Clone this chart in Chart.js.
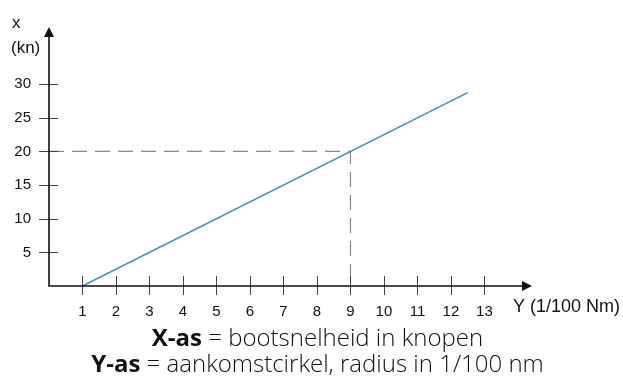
<!DOCTYPE html>
<html>
<head>
<meta charset="utf-8">
<script src="https://cdn.jsdelivr.net/npm/chart.js@4/dist/chart.umd.min.js"></script>
<style>
  html, body { margin: 0; padding: 0; background: #fff; }
  #wrap { position: relative; width: 623px; height: 389px; }
  #legend {
    position: absolute; left: 6px; top: 324px; width: 623px;
    text-align: center; font-family: "Open Sans", sans-serif;
    font-size: 24px; font-weight: 300; line-height: 26px; color: #111;
  }
  #legend b { font-weight: 700; }
</style>
</head>
<body>
<div id="wrap">
  <canvas id="myChart" width="623" height="389"></canvas>
  <div id="legend">
    <div><b>X-as</b> = bootsnelheid in knopen</div>
    <div><b>Y-as</b> = aankomstcirkel, radius in 1/100 nm</div>
  </div>
</div>
<script>
// data
const lineX = [1, 12.5];
const lineY = [0, 28.75];
const guideX = [0, 9, 9];
const guideY = [20, 20, 0];
const xTicks = [1, 2, 3, 4, 5, 6, 7, 8, 9, 10, 11, 12, 13];
const yTicks = [5, 10, 15, 20, 25, 30];
const xTitle = 'Y (1/100 Nm)';
const yTitle = ['x', '(kn)'];

const toPoints = (xs, ys) => xs.map((x, i) => ({x: x, y: ys[i]}));

// axes with arrows + crossing tick marks
const axesPlugin = {
    id: 'axes',
    afterDatasetsDraw(chart) {
        const ctx = chart.ctx;
        const a = chart.chartArea;
        const xs = chart.scales.x, ys = chart.scales.y;
        ctx.save();
        // tick marks
        ctx.strokeStyle = '#444';
        ctx.lineWidth = 1;
        xTicks.forEach(v => {
            const px = Math.round(xs.getPixelForValue(v)) + 0.5;
            ctx.beginPath();
            ctx.moveTo(px, a.bottom - 10);
            ctx.lineTo(px, a.bottom + 9);
            ctx.stroke();
        });
        yTicks.forEach(v => {
            const py = Math.round(ys.getPixelForValue(v)) + 0.5;
            ctx.beginPath();
            ctx.moveTo(a.left - 10, py);
            ctx.lineTo(a.left + 9, py);
            ctx.stroke();
        });
        // axis lines
        ctx.strokeStyle = '#111';
        ctx.lineWidth = 1.6;
        ctx.beginPath();
        ctx.moveTo(a.left, a.top + 8);
        ctx.lineTo(a.left, a.bottom);
        ctx.lineTo(a.right - 9, a.bottom);
        ctx.stroke();
        // arrow heads
        ctx.fillStyle = '#111';
        ctx.beginPath();
        ctx.moveTo(a.left, a.top);
        ctx.lineTo(a.left - 5, a.top + 10);
        ctx.lineTo(a.left + 5, a.top + 10);
        ctx.closePath();
        ctx.fill();
        ctx.beginPath();
        ctx.moveTo(a.right, a.bottom);
        ctx.lineTo(a.right - 10, a.bottom - 5);
        ctx.lineTo(a.right - 10, a.bottom + 5);
        ctx.closePath();
        ctx.fill();
        // axis titles
        ctx.fillStyle = '#111';
        ctx.font = '17px "Liberation Sans", Arial, sans-serif';
        ctx.textBaseline = 'alphabetic';
        ctx.textAlign = 'left';
        ctx.fillText(yTitle[0], 12, 28);
        ctx.fillText(yTitle[1], 11, 53);
        ctx.font = '18px "Liberation Sans", Arial, sans-serif';
        ctx.fillText(xTitle, a.right - 19, 312);
        ctx.restore();
    }
};

new Chart(document.getElementById('myChart').getContext('2d'), {
    type: 'scatter',
    data: {
        datasets: [
            {
                label: 'lijn',
                data: toPoints(lineX, lineY),
                showLine: true,
                borderColor: '#2f93c4',
                borderWidth: 1.5,
                pointRadius: 0,
                fill: false
            },
            {
                label: 'hulplijn',
                data: toPoints(guideX, guideY),
                showLine: true,
                borderColor: '#888',
                borderWidth: 1.2,
                borderDash: [15, 8],
                pointRadius: 0,
                fill: false
            }
        ]
    },
    options: {
        responsive: false,
        animation: false,
        layout: {padding: {left: 0, top: 26, right: 91, bottom: 0}},
        plugins: {legend: {display: false}, tooltip: {enabled: false}},
        scales: {
            x: {
                type: 'linear',
                min: 0,
                max: 14.42,
                grid: {display: false, drawTicks: false},
                border: {display: false},
                afterBuildTicks: axis => { axis.ticks = xTicks.map(v => ({value: v})); },
                afterFit: axis => { axis.height = 103; },
                ticks: {
                    padding: 17,
                    color: '#111',
                    font: {family: '"Liberation Sans", Arial, sans-serif', size: 15}
                }
            },
            y: {
                type: 'linear',
                min: 0,
                max: 38.5,
                grid: {display: false, drawTicks: false},
                border: {display: false},
                afterBuildTicks: axis => { axis.ticks = yTicks.map(v => ({value: v})); },
                afterFit: axis => { axis.width = 49; },
                ticks: {
                    padding: 18,
                    color: '#111',
                    font: {family: '"Liberation Sans", Arial, sans-serif', size: 15}
                }
            }
        }
    },
    plugins: [axesPlugin]
});
</script>
</body>
</html>
